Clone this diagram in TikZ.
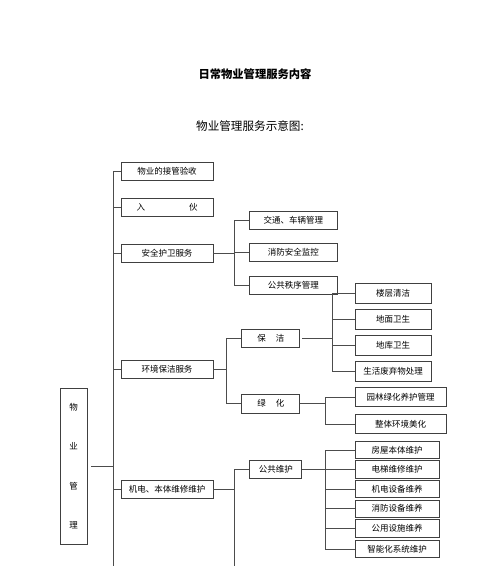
\documentclass[tikz,border=0pt]{standalone}
\usepackage{fontspec}
\newfontfamily\cjk{Noto Sans CJK SC}
\usetikzlibrary{calc}

\tikzset{
  box/.style={draw=black!75, line width=0.7pt, inner sep=0pt, minimum height=18pt,
    font=\cjk\fontsize{8.5}{10}\selectfont},
  topbox/.style={box, minimum width=92pt},
  midbox/.style={box, minimum width=88pt},
  subbox/.style={box, minimum width=58pt},
  cleanbox/.style={box, minimum width=76pt, minimum height=20pt},
  greenbox/.style={box, minimum width=91pt, minimum height=19pt},
  fixbox/.style={box, minimum width=84pt, minimum height=17.5pt},
  link/.style={draw=black!70, line width=0.7pt}
}

\begin{document}
\begin{tikzpicture}[x=1pt, y=-1pt]
  \useasboundingbox (0,0) rectangle (500,566);

  % Titles
  \node[font=\cjk\bfseries\fontsize{11.3}{13}\selectfont] (title) at (255,74) {日常物业管理服务内容};
  \node[font=\cjk\fontsize{11.6}{14}\selectfont] (subtitle) at (250,126) {物业管理服务示意图:};

  % Root
  \node[box, minimum width=27pt, minimum height=156pt, align=center,
    font=\cjk\fontsize{8.5}{39.5}\selectfont] (root) at (73.5,466) {物\\业\\管\\理};

  % First level
  \node[topbox] (takeover) at (167,171.7) {物业的接管验收};
  \node[topbox] (movein) at (167,207) {入\hspace{44pt}伙};
  \node[topbox] (security) at (167,253) {安全护卫服务};
  \node[topbox] (environ) at (167,369) {环境保洁服务};
  \node[topbox] (repair) at (167,489) {机电、本体维修维护};

  % Security
  \node[midbox] (traffic) at (293.3,220.5) {交通、车辆管理};
  \node[midbox] (fire) at (293.3,252.5) {消防安全监控};
  \node[midbox] (order) at (293.3,285.5) {公共秩序管理};

  % Environment
  \node[subbox] (clean) at (270.8,338.3) {保\hspace{10pt}洁};
  \node[subbox, minimum height=19pt] (green) at (270.8,403.7) {绿\hspace{10pt}化};
  \node[cleanbox] (floor) at (393,293.3) {楼层清洁};
  \node[cleanbox] (ground) at (393,319.7) {地面卫生};
  \node[cleanbox] (garage) at (393,345.3) {地库卫生};
  \node[cleanbox] (waste) at (393,371.7) {生活废弃物处理};
  \node[greenbox] (garden) at (400.5,397) {园林绿化养护管理};
  \node[greenbox] (beauty) at (400.5,424) {整体环境美化};

  % Repair
  \node[box, minimum width=52pt] (public) at (275.8,469) {公共维护};
  \node[fixbox] (house) at (397,450) {房屋本体维护};
  \node[fixbox] (lift) at (397,469.5) {电梯维修维护};
  \node[fixbox] (mech) at (397,489) {机电设备维养};
  \node[fixbox] (firedev) at (397,508.7) {消防设备维养};
  \node[fixbox] (facility) at (397,528.3) {公用设施维养};
  \node[fixbox] (smart) at (397,549) {智能化系统维护};

  % Trunk
  \coordinate (trunk) at (113,171.7);
  \draw[link] (trunk) -- (113,566);
  \draw[link] ([xshift=4pt]root.east) -- (root.east -| trunk);
  \foreach \n in {takeover,movein,security,environ,repair}
    \draw[link] (\n.west) -- (\n.west -| trunk);

  % Security bus
  \draw[link] (security.east) -- ++(21,0) coordinate (secbus);
  \draw[link] (traffic.west -| secbus) -- (order.west -| secbus);
  \foreach \n in {traffic,fire,order}
    \draw[link] (\n.west) -- (\n.west -| secbus);

  % Environment bus
  \draw[link] (environ.east) -- ++(13,0) coordinate (envbus);
  \draw[link] (clean.west -| envbus) -- (green.west -| envbus);
  \foreach \n in {clean,green}
    \draw[link] (\n.west) -- (\n.west -| envbus);

  \draw[link] ([xshift=2pt]clean.east) -- (332.7,338.3) coordinate (cleanbus);
  \draw[link] (floor.west -| cleanbus) -- (waste.west -| cleanbus);
  \foreach \n in {floor,ground,garage,waste}
    \draw[link] (\n.west) -- (\n.west -| cleanbus);

  \draw[link] (green.east) -- (325,403.7) coordinate (greenbus);
  \draw[link] (garden.west -| greenbus) -- (beauty.west -| greenbus);
  \foreach \n in {garden,beauty}
    \draw[link] (\n.west) -- (\n.west -| greenbus);

  % Repair bus
  \draw[link] (repair.east) -- ++(21,0) coordinate (repbus);
  \draw[link] (public.west -| repbus) -- (repbus |- 0,566);
  \draw[link] (public.west) -- (public.west -| repbus);

  \draw[link] (public.east) -- (325,469) coordinate (pubbus);
  \draw[link] (house.west -| pubbus) -- (smart.west -| pubbus);
  \foreach \n in {house,lift,mech,firedev,facility,smart}
    \draw[link] (\n.west) -- (\n.west -| pubbus);
\end{tikzpicture}
\end{document}
